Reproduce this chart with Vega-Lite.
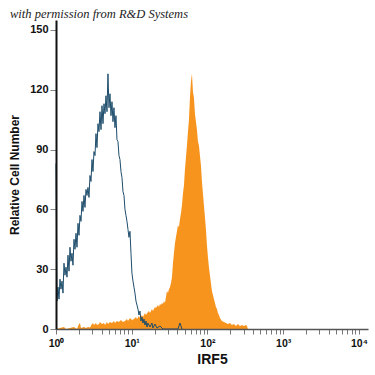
{
  "$schema": "https://vega.github.io/schema/vega-lite/v6.json",
  "width": 312,
  "height": 309,
  "autosize": {"type": "none"},
  "padding": {"left": 56, "top": 20, "right": 7, "bottom": 46},
  "background": "white",
  "title": {
    "text": "with permission from R&D Systems",
    "anchor": "start",
    "frame": "group",
    "dx": -46,
    "offset": 0,
    "font": "Liberation Serif",
    "fontStyle": "italic",
    "fontWeight": "normal",
    "fontSize": 12.5,
    "color": "#222222"
  },
  "config": {"view": {"stroke": null}},
  "datasets": {
    "irf5": [
      {"x": 1.0, "count": 0}, {"x": 1.129, "count": 0.5}, {"x": 1.275, "count": 1}, {"x": 1.355, "count": 0},
      {"x": 1.53, "count": 0.5}, {"x": 1.728, "count": 1}, {"x": 1.893, "count": 0}, {"x": 2.012, "count": 2.5},
      {"x": 2.074, "count": 3}, {"x": 2.138, "count": 0.5}, {"x": 2.342, "count": 1}, {"x": 2.489, "count": 0.5},
      {"x": 2.645, "count": 1}, {"x": 2.811, "count": 0.8}, {"x": 2.987, "count": 2.5}, {"x": 3.079, "count": 3},
      {"x": 3.174, "count": 2}, {"x": 3.373, "count": 3}, {"x": 3.477, "count": 2}, {"x": 3.695, "count": 2.5},
      {"x": 3.81, "count": 3.5}, {"x": 4.048, "count": 2.5}, {"x": 4.302, "count": 3}, {"x": 4.435, "count": 2},
      {"x": 4.712, "count": 3.5}, {"x": 4.858, "count": 2.5}, {"x": 5.162, "count": 3.5}, {"x": 5.486, "count": 3},
      {"x": 5.83, "count": 4}, {"x": 6.01, "count": 3}, {"x": 6.386, "count": 4}, {"x": 6.787, "count": 3.5},
      {"x": 7.212, "count": 4.5}, {"x": 7.665, "count": 3.5}, {"x": 8.145, "count": 4}, {"x": 8.656, "count": 5},
      {"x": 8.923, "count": 4}, {"x": 9.483, "count": 5.5}, {"x": 10.07, "count": 4.5}, {"x": 10.71, "count": 5},
      {"x": 11.38, "count": 6}, {"x": 11.73, "count": 5}, {"x": 12.46, "count": 6.5}, {"x": 12.85, "count": 5.5},
      {"x": 13.65, "count": 7}, {"x": 14.08, "count": 6}, {"x": 14.96, "count": 8}, {"x": 15.42, "count": 7},
      {"x": 16.38, "count": 8.5}, {"x": 16.89, "count": 9}, {"x": 17.41, "count": 8}, {"x": 18.5, "count": 10},
      {"x": 19.07, "count": 9}, {"x": 20.27, "count": 11}, {"x": 20.89, "count": 10.5}, {"x": 22.2, "count": 12},
      {"x": 22.89, "count": 11}, {"x": 23.6, "count": 12.5}, {"x": 24.32, "count": 12}, {"x": 25.07, "count": 13},
      {"x": 25.85, "count": 12.5}, {"x": 26.65, "count": 14}, {"x": 27.47, "count": 13}, {"x": 28.31, "count": 16},
      {"x": 29.19, "count": 19}, {"x": 30.09, "count": 18}, {"x": 31.02, "count": 20}, {"x": 31.98, "count": 21},
      {"x": 32.96, "count": 23}, {"x": 33.98, "count": 26}, {"x": 35.03, "count": 33}, {"x": 36.11, "count": 38},
      {"x": 37.22, "count": 43}, {"x": 38.37, "count": 46}, {"x": 39.56, "count": 49}, {"x": 40.78, "count": 52},
      {"x": 42.03, "count": 51}, {"x": 43.33, "count": 55}, {"x": 44.67, "count": 58}, {"x": 46.05, "count": 62},
      {"x": 47.47, "count": 68}, {"x": 48.93, "count": 72}, {"x": 50.44, "count": 80}, {"x": 52.0, "count": 86},
      {"x": 53.6, "count": 92}, {"x": 55.26, "count": 99}, {"x": 56.96, "count": 105}, {"x": 58.72, "count": 116},
      {"x": 60.53, "count": 124}, {"x": 62.4, "count": 128}, {"x": 64.33, "count": 119}, {"x": 66.31, "count": 116},
      {"x": 68.36, "count": 108}, {"x": 70.47, "count": 104}, {"x": 72.64, "count": 100}, {"x": 74.89, "count": 94},
      {"x": 77.2, "count": 92}, {"x": 79.58, "count": 87}, {"x": 82.04, "count": 82}, {"x": 84.57, "count": 74},
      {"x": 87.18, "count": 68}, {"x": 89.87, "count": 62}, {"x": 92.64, "count": 56}, {"x": 95.5, "count": 50},
      {"x": 98.45, "count": 42}, {"x": 101.5, "count": 36}, {"x": 104.6, "count": 31}, {"x": 107.8, "count": 27},
      {"x": 111.2, "count": 23}, {"x": 114.6, "count": 19}, {"x": 118.1, "count": 17}, {"x": 121.8, "count": 15},
      {"x": 125.6, "count": 13}, {"x": 129.4, "count": 11}, {"x": 133.4, "count": 10}, {"x": 137.5, "count": 8},
      {"x": 141.8, "count": 7}, {"x": 146.2, "count": 5.5}, {"x": 155.3, "count": 4}, {"x": 165.0, "count": 3.5},
      {"x": 175.4, "count": 3}, {"x": 186.4, "count": 2.5}, {"x": 198.1, "count": 3}, {"x": 210.5, "count": 2},
      {"x": 223.7, "count": 2.5}, {"x": 237.7, "count": 1.5}, {"x": 252.6, "count": 2.5}, {"x": 268.4, "count": 1.5},
      {"x": 285.2, "count": 2}, {"x": 303.1, "count": 1.5}, {"x": 322.1, "count": 2}, {"x": 332.0, "count": 1.5},
      {"x": 342.3, "count": 0}
    ],
    "isotype": [
      {"x": 1.0, "count": 83}, {"x": 1.031, "count": 14}, {"x": 1.063, "count": 21}, {"x": 1.096, "count": 15},
      {"x": 1.129, "count": 25}, {"x": 1.164, "count": 20}, {"x": 1.2, "count": 24}, {"x": 1.237, "count": 18},
      {"x": 1.275, "count": 33}, {"x": 1.315, "count": 27}, {"x": 1.355, "count": 31}, {"x": 1.397, "count": 26},
      {"x": 1.44, "count": 37}, {"x": 1.485, "count": 29}, {"x": 1.53, "count": 41}, {"x": 1.578, "count": 34},
      {"x": 1.626, "count": 38}, {"x": 1.676, "count": 32}, {"x": 1.728, "count": 45}, {"x": 1.782, "count": 40},
      {"x": 1.837, "count": 48}, {"x": 1.893, "count": 41}, {"x": 1.952, "count": 53}, {"x": 2.012, "count": 47},
      {"x": 2.074, "count": 57}, {"x": 2.138, "count": 54}, {"x": 2.204, "count": 64}, {"x": 2.272, "count": 59},
      {"x": 2.342, "count": 67}, {"x": 2.414, "count": 61}, {"x": 2.489, "count": 70}, {"x": 2.566, "count": 67},
      {"x": 2.645, "count": 71}, {"x": 2.727, "count": 66}, {"x": 2.811, "count": 77}, {"x": 2.898, "count": 74},
      {"x": 2.987, "count": 85}, {"x": 3.079, "count": 79}, {"x": 3.174, "count": 89}, {"x": 3.272, "count": 87},
      {"x": 3.373, "count": 98}, {"x": 3.477, "count": 91}, {"x": 3.585, "count": 103}, {"x": 3.695, "count": 99},
      {"x": 3.81, "count": 109}, {"x": 3.927, "count": 100}, {"x": 4.048, "count": 112}, {"x": 4.173, "count": 103},
      {"x": 4.302, "count": 113}, {"x": 4.435, "count": 108}, {"x": 4.571, "count": 117}, {"x": 4.712, "count": 109},
      {"x": 4.858, "count": 128}, {"x": 5.007, "count": 111}, {"x": 5.162, "count": 118}, {"x": 5.321, "count": 107},
      {"x": 5.486, "count": 114}, {"x": 5.655, "count": 104}, {"x": 5.83, "count": 111}, {"x": 6.01, "count": 101},
      {"x": 6.195, "count": 107}, {"x": 6.386, "count": 95}, {"x": 6.584, "count": 94}, {"x": 6.787, "count": 87},
      {"x": 6.997, "count": 85}, {"x": 7.212, "count": 79}, {"x": 7.435, "count": 76}, {"x": 7.665, "count": 69},
      {"x": 7.901, "count": 67}, {"x": 8.145, "count": 60}, {"x": 8.397, "count": 57}, {"x": 8.656, "count": 54},
      {"x": 8.923, "count": 50}, {"x": 9.199, "count": 46}, {"x": 9.483, "count": 49}, {"x": 9.772, "count": 38},
      {"x": 10.07, "count": 28}, {"x": 10.39, "count": 24}, {"x": 10.71, "count": 21}, {"x": 11.04, "count": 18},
      {"x": 11.38, "count": 14}, {"x": 11.73, "count": 12}, {"x": 12.09, "count": 10}, {"x": 12.46, "count": 7},
      {"x": 12.85, "count": 9}, {"x": 13.24, "count": 4}, {"x": 13.65, "count": 6}, {"x": 14.08, "count": 3},
      {"x": 14.51, "count": 5}, {"x": 14.96, "count": 2}, {"x": 15.42, "count": 4}, {"x": 15.89, "count": 1},
      {"x": 16.38, "count": 3}, {"x": 17.41, "count": 1}, {"x": 18.5, "count": 3}, {"x": 19.07, "count": 0.5},
      {"x": 20.27, "count": 2.5}, {"x": 21.54, "count": 0.5}, {"x": 23.6, "count": 1.5}, {"x": 25.85, "count": 0},
      {"x": 40.78, "count": 0}, {"x": 43.33, "count": 3}, {"x": 46.05, "count": 0}
    ]
  },
  "layer": [
    {
      "data": {"name": "irf5"},
      "mark": {"type": "area", "color": "#F7941E", "interpolate": "linear"},
      "encoding": {
        "x": {
          "field": "x", "type": "quantitative",
          "scale": {"type": "log", "domain": [1, 13183], "nice": false},
          "axis": {
            "title": "IRF5",
            "values": [1,2,3,4,5,6,7,8,9,10,20,30,40,50,60,70,80,90,100,200,300,400,500,600,700,800,900,1000,2000,3000,4000,5000,6000,7000,8000,9000,10000],
            "labelExpr": "datum.value == 1 ? '10⁰' : datum.value == 10 ? '10¹' : datum.value == 100 ? '10²' : datum.value == 1000 ? '10³' : datum.value == 10000 ? '10⁴' : ''",
            "labelFont": "Liberation Sans",
            "labelFontWeight": "bold",
            "labelFontSize": 10.5,
            "labelColor": "#111111",
            "labelPadding": 4,
            "labelFlush": false,
            "labelOverlap": false,
            "tickColor": "#777777",
            "tickSize": 5,
            "domainColor": "#555555",
            "domainWidth": 1.5,
            "grid": false,
            "titleFont": "Liberation Sans",
            "titleFontWeight": "bold",
            "titleFontSize": 14,
            "titleColor": "#111111",
            "titlePadding": 4,
            "zindex": 1
          }
        },
        "y": {
          "field": "count", "type": "quantitative",
          "scale": {"domain": [0, 155], "nice": false},
          "axis": {
            "title": "Relative Cell Number",
            "values": [0, 30, 60, 90, 120, 150],
            "labelFont": "Liberation Sans",
            "labelFontWeight": "bold",
            "labelFontSize": 11,
            "labelColor": "#111111",
            "labelPadding": 2,
            "tickColor": "#888888",
            "tickSize": 6,
            "domainColor": "#111111",
            "domainWidth": 2,
            "grid": false,
            "titleFont": "Liberation Sans",
            "titleFontWeight": "bold",
            "titleFontSize": 12,
            "titleColor": "#111111",
            "titlePadding": 8,
            "zindex": 1
          }
        }
      }
    },
    {
      "data": {"name": "isotype"},
      "mark": {"type": "line", "color": "#1E4D6B", "strokeWidth": 1, "interpolate": "linear"},
      "encoding": {
        "x": {"field": "x", "type": "quantitative"},
        "y": {"field": "count", "type": "quantitative"}
      }
    }
  ]
}
